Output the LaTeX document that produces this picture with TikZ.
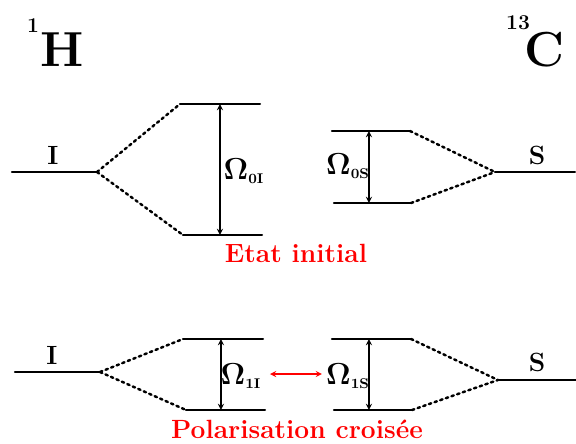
\documentclass[tikz,border=0pt]{standalone}
\usepackage{amsmath}
\usepackage{tkz-euclide}
\usetikzlibrary{arrows,calc}
\definecolor{TitleClr}{RGB}{255,0,0}
\tikzset{
  lvl/.style={line width=1.2pt,color=black},
  split/.style={line width=1.4pt,color=black,dotted},
  gap/.style={line width=0.6pt,color=black,<->,>=stealth},
  lbl/.style={font=\fontsize{15}{17}\selectfont\bfseries,inner sep=0pt},
  freq/.style={font=\fontsize{16}{18}\selectfont\bfseries,inner sep=0pt},
  nuc/.style={font=\fontsize{28}{30}\selectfont\bfseries,inner sep=0pt},
  iso/.style={font=\fontsize{12}{14}\selectfont\bfseries,inner sep=0pt},
  title/.style={font=\fontsize{15}{17}\selectfont\bfseries,color=TitleClr,inner sep=0pt}
}

\begin{document}
\begin{tikzpicture}[scale=.2]
\useasboundingbox (0,0) rectangle (57.6,44.3);
\tkzSetUpLine[line width=1.2pt,color=black]

% etat initial
\tkzDefPoints{1.2/27.1/IA,9.7/27.1/IB,18.0/33.9/IC,26.0/33.9/ID,18.3/20.8/IE,26.2/20.8/IF}
\tkzDefPoints{22.0/33.9/IG,22.0/20.8/IH}
\tkzDefPoints{33.2/31.2/SC,41.0/31.2/SD,33.4/24.0/SE,41.1/24.0/SF,49.5/27.1/SA,57.5/27.1/SB}
\tkzDefPoints{36.9/31.2/SG,36.9/24.0/SH}

% polarisation croisee
\tkzDefPoints{1.5/7.1/JA,10.0/7.1/JB,18.3/10.4/JC,26.3/10.4/JD,18.6/3.3/JE,26.5/3.3/JF}
\tkzDefPoints{22.1/10.4/JG,22.1/3.3/JH}
\tkzDefPoints{33.2/10.4/TC,41.1/10.4/TD,33.4/3.3/TE,41.2/3.3/TF,49.8/6.3/TA,57.6/6.3/TB}
\tkzDefPoints{36.9/10.4/TG,36.9/3.3/TH}
\tkzDefPoints{27.0/6.9/XA,32.2/6.9/XB}

\tkzDrawSegments[lvl](IA,IB IC,ID IE,IF SC,SD SE,SF SA,SB)
\tkzDrawSegments[lvl](JA,JB JC,JD JE,JF TC,TD TE,TF TA,TB)

\tkzDrawSegments[split](IB,IC IB,IE SD,SA SF,SA)
\tkzDrawSegments[split](JB,JC JB,JE TD,TA TF,TA)

\tkzDrawSegments[gap](IG,IH SG,SH JG,JH TG,TH)
\tkzDrawSegment[gap,color=TitleClr](XA,XB)

% noyaux
\node[nuc] (nH) at (6.2,39.3) {H};
\node[iso] (nH1) at (3.3,41.7) {1};
\node[nuc] (nC) at (54.5,39.3) {C};
\node[iso] (nC13) at (51.8,42.0) {13};

\node[lbl] (lI0) at (5.3,28.8) {I};
\node[lbl] (lS0) at (53.7,28.8) {S};
\node[lbl] (lI1) at (5.2,8.8) {I};
\node[lbl] (lS1) at (53.7,8.1) {S};

\node[freq] (w0I) at (24.4,27.2) {$\mathbf{\Omega}_{\scriptscriptstyle\mathbf{0I}}$};
\node[freq] (w0S) at (34.8,27.7) {$\mathbf{\Omega}_{\scriptscriptstyle\mathbf{0S}}$};
\node[freq] (w1I) at (24.1,6.7) {$\mathbf{\Omega}_{\scriptscriptstyle\mathbf{1I}}$};
\node[freq] (w1S) at (34.8,6.7) {$\mathbf{\Omega}_{\scriptscriptstyle\mathbf{1S}}$};

\node[title] (t0) at (29.6,19.0) {Etat initial};
\node[title] (t1) at (29.7,1.4) {Polarisation croisée};

\end{tikzpicture}
\end{document}
